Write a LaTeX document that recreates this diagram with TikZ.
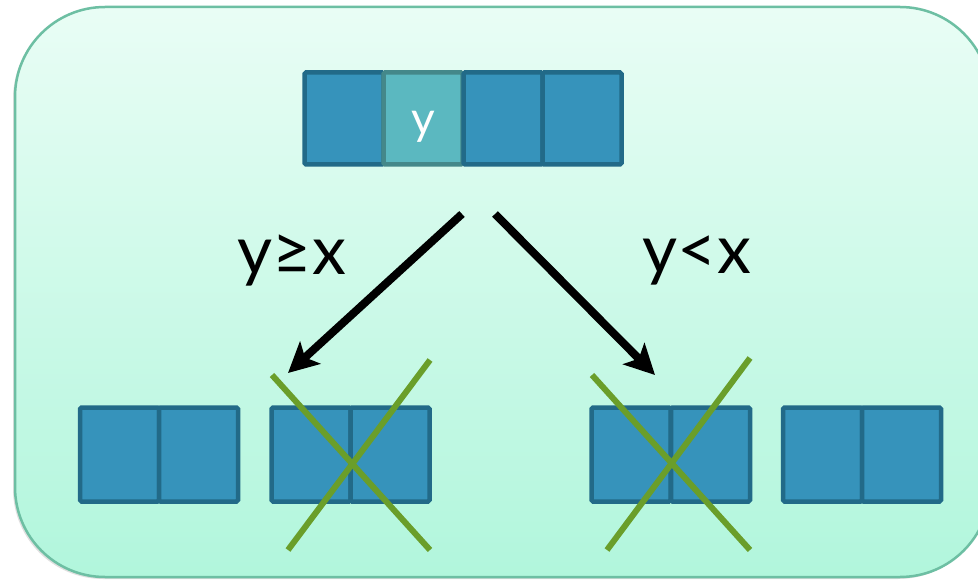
\documentclass[tikz,border=0pt]{standalone}
\usepackage{fontspec}
\setmainfont{Lato}
\usetikzlibrary{arrows.meta,shadows}
\definecolor{frametop}{HTML}{E9FDF5}
\definecolor{framebot}{HTML}{B1F6DC}
\definecolor{frameline}{HTML}{6DBFA3}
\definecolor{cellblue}{HTML}{3693BB}
\definecolor{celldark}{HTML}{226A88}
\definecolor{ycell}{HTML}{5BB8C0}
\definecolor{yline}{HTML}{44888A}
\definecolor{crossgreen}{HTML}{6A9E2A}
\begin{document}
\begin{tikzpicture}[x=1pt,y=-1pt,
  cell/.style={draw=celldark, fill=cellblue, line width=4.5pt, minimum width=79pt,
    minimum height=94pt, inner sep=0pt, outer sep=0pt, rounded corners=1.5pt},
  ycellbox/.style={cell, draw=yline, fill=ycell},
  ytext/.style={text=white, font=\fontsize{46}{54}\selectfont, inner sep=0pt},
  topcell/.style={cell, minimum height=92pt},
  bigarrow/.style={line width=8pt, -{Stealth[length=30pt,width=30pt,inset=7pt]}},
  crossline/.style={draw=crossgreen, line width=6pt},
  label/.style={font=\fontsize{68}{80}\selectfont, inner sep=0pt}]
\useasboundingbox (0,0) rectangle (978,580);
\fill[white] (0,0) rectangle (978,580);
% frame
\path[draw=frameline, line width=2.5pt, top color=frametop, bottom color=framebot,
  rounded corners=90pt, drop shadow={opacity=0.25, shadow xshift=-2pt, shadow yshift=-2pt}]
  (15,7) rectangle (990,577);
% top array
\node[topcell] (t1) at (344,118.5) {};
\node[ycellbox, minimum height=92pt] (t2) at (423,118.5) {};
\node[ytext, anchor=base] (yl) at (423,135) {y};
\node[topcell] (t3) at (503,118.5) {};
\node[topcell] (t4) at (582,118.5) {};
% bottom arrays
\node[cell] (a1) at (119.5,454.5) {};
\node[cell] (a2) at (198.5,454.5) {};
\node[cell] (b1) at (311,454.5) {};
\node[cell] (b2) at (390,454.5) {};
\node[cell] (c1) at (631,454.5) {};
\node[cell] (c2) at (710.5,454.5) {};
\node[cell] (d1) at (822.5,454.5) {};
\node[cell] (d2) at (901.5,454.5) {};
% arrows
\coordinate (ls) at (462,214);
\coordinate (le) at (288,373);
\coordinate (rs) at (495,214);
\coordinate (re) at (655,375);
\draw[bigarrow] (ls) -- (le);
\draw[bigarrow] (rs) -- (re);
% labels
\node[label] (lab1) at (292,260) {y≥x};
\node[label] (lab2) at (697,260) {y<x};
% crosses
\coordinate (x1a) at (272,375);
\coordinate (x1b) at (430,550);
\coordinate (x1c) at (288,550);
\coordinate (x1d) at (430,360);
\coordinate (x2a) at (592,375);
\coordinate (x2b) at (750,550);
\coordinate (x2c) at (607,550);
\coordinate (x2d) at (750,358);
\draw[crossline] (x1a) -- (x1b);
\draw[crossline] (x1c) -- (x1d);
\draw[crossline] (x2a) -- (x2b);
\draw[crossline] (x2c) -- (x2d);
\end{tikzpicture}
\end{document}
